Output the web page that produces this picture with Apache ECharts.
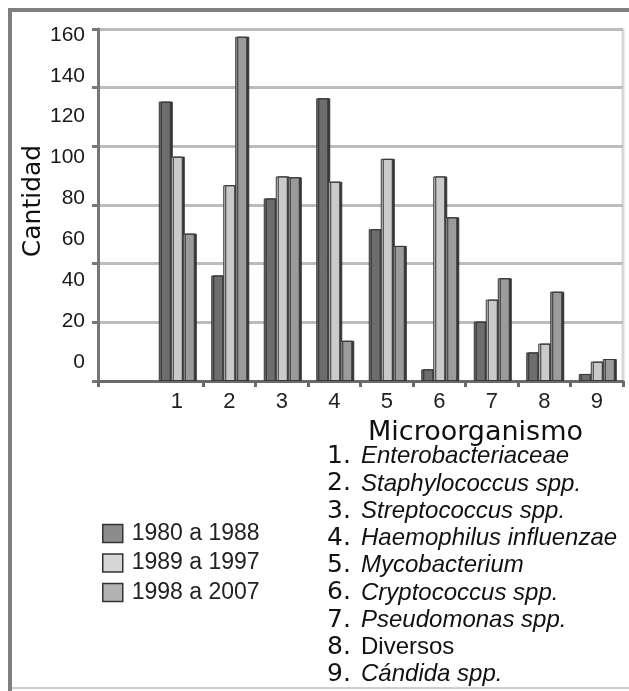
<!DOCTYPE html>
<html><head><meta charset="utf-8">
<script src="https://cdn.jsdelivr.net/npm/echarts@6/dist/echarts.min.js"></script>
<style>html,body{margin:0;padding:0;background:#fff}#c{width:629px;height:691px}</style>
</head><body><div id="c"></div>
<script>
// ---- data ----
const categories = ['', '1', '2', '3', '4', '5', '6', '7', '8', '9'];
const seriesNames = ['1980 a 1988', '1989 a 1997', '1998 a 2007'];
const s1980_1988 = ['-', 127, 48, 83, 128.5, 69, 5.3, 27, 13, 3.2];
const s1989_1997 = ['-', 102, 89, 93, 90.6, 101, 93, 37, 17, 8.8];
const s1998_2007 = ['-', 67, 156.5, 92.6, 18.3, 61.4, 74.4, 46.7, 40.6, 10];
const yTickLabels = [0, 20, 40, 60, 80, 100, 120, 140, 160];
const microTitle = 'Microorganismo';
const microNumbers = ['1.', '2.', '3.', '4.', '5.', '6.', '7.', '8.', '9.'];
const microNames = ['Enterobacteriaceae', 'Staphylococcus spp.', 'Streptococcus spp.', 'Haemophilus influenzae',
  'Mycobacterium', 'Cryptococcus spp.', 'Pseudomonas spp.', 'Diversos', 'Cándida spp.'];
const microItalic = [true, true, true, true, true, true, true, false, true];

// ---- styles ----
const barColors = ['#6d6d6d', '#cacaca', '#9b9b9b'];
const legendColors = ['#8c8c8c', '#d6d6d6', '#b3b3b3'];

const chart = echarts.init(document.getElementById('c'), null, {renderer: 'canvas'});

const listText = microNumbers.map((n, i) =>
  '{n|' + n + '}{' + (microItalic[i] ? 'i' : 'u') + '|' + microNames[i] + '}').join('\n');

const mkSeries = (name, data, idx) => ({
  name: name, type: 'bar', data: data, xAxisIndex: 0, yAxisIndex: 0,
  barWidth: 12, barGap: '0%',
  itemStyle: {color: barColors[idx], borderColor: '#3a3a3a', borderWidth: 1,
    shadowColor: 'rgba(45,45,45,0.95)', shadowOffsetX: 2, shadowOffsetY: 0, shadowBlur: 0},
  emphasis: {disabled: true}
});

chart.setOption({
  animation: false,
  backgroundColor: '#fff',
  grid: {left: 98, right: 6, top: 29, bottom: 310, containLabel: false},
  title: [
    {text: microTitle, left: 368, top: 419, padding: 0,
      textStyle: {fontFamily: 'DejaVu Sans', fontSize: 27, fontWeight: 'normal', color: '#111', lineHeight: 27}},
    {text: listText, left: 327, top: 443, padding: 0,
      textStyle: {lineHeight: 27.25, fontWeight: 'normal',
        rich: {
          n: {fontFamily: 'DejaVu Sans', fontSize: 25, width: 34, color: '#111', lineHeight: 27.25},
          i: {fontFamily: 'Liberation Sans', fontStyle: 'italic', fontSize: 24, color: '#111', lineHeight: 27.25},
          u: {fontFamily: 'Liberation Sans', fontSize: 24, color: '#111', lineHeight: 27.25}
        }}}
  ],
  legend: {
    orient: 'vertical', left: 97, top: 516, itemWidth: 20, itemHeight: 18, itemGap: 4.5,
    selectedMode: false,
    textStyle: {fontFamily: 'Liberation Sans', fontSize: 23, color: '#222', lineHeight: 25, padding: [0, 0, 0, 4]},
    data: seriesNames.map((n, i) => ({name: n, icon: 'rect',
      itemStyle: {color: legendColors[i], borderColor: '#333', borderWidth: 1.5, shadowBlur: 0, shadowOffsetX: 0, shadowColor: 'transparent'}}))
  },
  xAxis: {
    type: 'category', data: categories, boundaryGap: true,
    axisLine: {lineStyle: {color: '#6a6a6a', width: 3}},
    axisTick: {show: true, length: 6, lineStyle: {color: '#6a6a6a', width: 3},
      interval: function (i) { return i !== 1; }},
    axisLabel: {fontFamily: 'Liberation Sans', fontSize: 22, color: '#222', margin: 10}
  },
  yAxis: [
    {
      type: 'value', min: 0, max: 160, interval: 160 / 6, position: 'left',
      axisLine: {show: true, lineStyle: {color: '#777', width: 3}},
      axisTick: {show: true, length: 6, lineStyle: {color: '#777', width: 3}},
      axisLabel: {show: false},
      splitLine: {show: true, lineStyle: {color: '#bcbcbc', width: 3}}
    },
    {
      type: 'value', min: -9.45, max: 162.94, position: 'left', offset: 0,
      name: 'Cantidad', nameLocation: 'middle', nameRotate: 90, nameGap: 52, nameMoveOverlap: false,
      nameTextStyle: {fontFamily: 'DejaVu Sans', fontSize: 25, color: '#111', padding: [0, 0, 0, 8]},
      axisLine: {show: false}, axisTick: {show: false}, splitLine: {show: false},
      axisLabel: {customValues: yTickLabels, fontFamily: 'Liberation Sans', fontSize: 21, color: '#1a1a1a', margin: 13,
        formatter: v => String(Math.round(v))}
    }
  ],
  graphic: [
    {type: 'line', shape: {x1: 8, y1: 10, x2: 629, y2: 10}, style: {stroke: '#7f7f7f', lineWidth: 4}, z: 100},
    {type: 'line', shape: {x1: 10, y1: 8, x2: 10, y2: 691}, style: {stroke: '#7f7f7f', lineWidth: 4}, z: 100},
    {type: 'line', shape: {x1: 12, y1: 688, x2: 629, y2: 688}, style: {stroke: '#cfcfcf', lineWidth: 2}, z: 100},
    {type: 'line', shape: {x1: 623, y1: 29, x2: 623, y2: 381}, style: {stroke: '#d8d8d8', lineWidth: 3}, z: 0}
  ],
  series: [
    mkSeries(seriesNames[0], s1980_1988, 0),
    mkSeries(seriesNames[1], s1989_1997, 1),
    mkSeries(seriesNames[2], s1998_2007, 2)
  ]
});
</script>
</body></html>
